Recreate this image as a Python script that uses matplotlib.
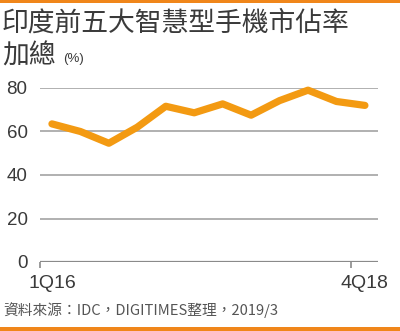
import matplotlib
matplotlib.use("Agg")
import matplotlib.pyplot as plt
from matplotlib.patches import Rectangle

plt.rcParams['font.family'] = ['Noto Sans CJK TC', 'DejaVu Sans']

# Quarterly combined market share of India's top-5 smartphone vendors (%)
quarters = ['1Q16', '2Q16', '3Q16', '4Q16', '1Q17', '2Q17', '3Q17', '4Q17',
            '1Q18', '2Q18', '3Q18', '4Q18']
share = [63.5, 60.0, 54.6, 62.0, 71.6, 68.6, 72.7, 67.5, 74.2, 79.0, 73.8, 72.0]
y_ticks = [0, 20, 40, 60, 80]
x_labels = ['1Q16', '4Q18']

ORANGE = '#F39A12'
BAR = '#F0861A'
TEXT = '#3a3a3a'
NUM_FONT = ['Liberation Sans', 'DejaVu Sans']

fig = plt.figure(figsize=(4.0, 3.31), dpi=100)
fig.patch.set_facecolor('white')

# thin orange bars at top and bottom edges
fig.add_artist(Rectangle((0, 1 - 2.5 / 331), 1, 2.5 / 331, transform=fig.transFigure,
                         color=BAR, lw=0))
fig.add_artist(Rectangle((0, 0), 1, 4 / 331, transform=fig.transFigure,
                         color=BAR, lw=0))

fig.text(2 / 400, 1 - 23 / 331, '印度前五大智慧型手機市佔率', fontsize=19.3,
         color=TEXT, va='center', ha='left')
fig.text(2 / 400, 1 - 56 / 331, '加總', fontsize=19.3, color=TEXT,
         va='center', ha='left')
fig.text(63 / 400, 1 - 59 / 331, '(%)', fontsize=9.5, color=TEXT,
         va='center', ha='left', family=NUM_FONT)
fig.text(3 / 400, 1 - 310 / 331, '資料來源：IDC，DIGITIMES整理，2019/3',
         fontsize=10.6, color='#555555', va='center', ha='left')

ax = fig.add_axes([40 / 400, 1 - 262 / 331, 338 / 400, 174 / 331])
x = list(range(len(quarters)))
ax.plot(x, share, color=ORANGE, lw=5.2, solid_capstyle='round',
        solid_joinstyle='round', clip_on=False, zorder=3)

ax.set_xlim(-0.42, len(quarters) - 1 + 0.46)
ax.set_ylim(0, 80)

for yv in y_ticks[1:]:
    ax.axhline(yv, color='#a3a3a3', lw=1.2, zorder=1)
ax.axhline(0, color='#8a8a8a', lw=1.6, zorder=2)

for s in ax.spines.values():
    s.set_visible(False)

ax.set_yticks(y_ticks)
ax.set_yticklabels([str(v) for v in y_ticks], fontsize=13.5, color=TEXT,
                   family=NUM_FONT)
ax.tick_params(axis='y', length=0, pad=9)

ax.set_xticks([quarters.index(x_labels[0]), quarters.index(x_labels[1])])
ax.set_xticklabels(x_labels, fontsize=14, color=TEXT, family=NUM_FONT)
ax.tick_params(axis='x', length=0, pad=9)
ax.set_xticks([-0.42, 10.5], minor=True)
ax.tick_params(axis='x', which='minor', length=4, width=1.2, color='#8a8a8a')

fig.savefig('out.png', dpi=100, facecolor='white')
